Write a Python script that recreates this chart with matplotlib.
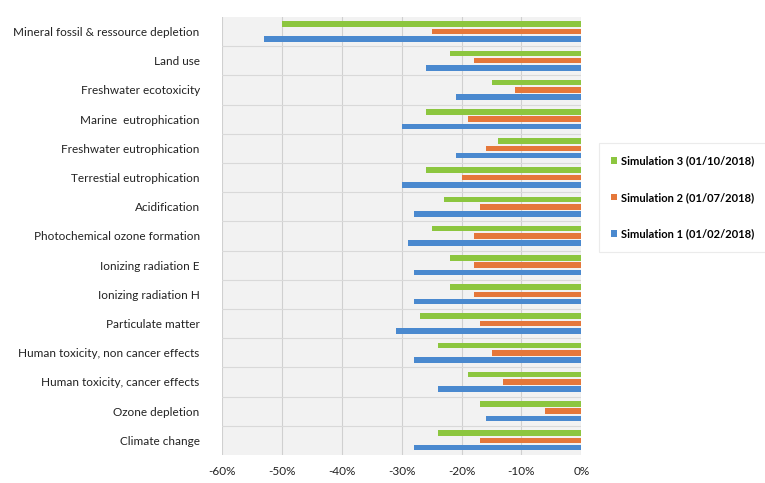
import matplotlib.pyplot as plt
import numpy as np
from matplotlib.ticker import FuncFormatter

plt.rcParams['font.family'] = ['Lato', 'DejaVu Sans']

categories = [
    "Mineral fossil & ressource depletion",
    "Land use",
    "Freshwater ecotoxicity",
    "Marine  eutrophication",
    "Freshwater eutrophication",
    "Terrestial eutrophication",
    "Acidification",
    "Photochemical ozone formation",
    "Ionizing radiation E",
    "Ionizing radiation H",
    "Particulate matter",
    "Human toxicity, non cancer effects",
    "Human toxicity, cancer effects",
    "Ozone depletion",
    "Climate change",
]

# percent change (top to bottom)
sim3 = [-50, -22, -15, -26, -14, -26, -23, -25, -22, -22, -27, -24, -19, -17, -24]
sim2 = [-25, -18, -11, -19, -16, -20, -17, -18, -18, -18, -17, -15, -13, -6, -17]
sim1 = [-53, -26, -21, -30, -21, -30, -28, -29, -28, -28, -31, -28, -24, -16, -28]

series_names = ["Simulation 3 (01/10/2018)",
                "Simulation 2 (01/07/2018)",
                "Simulation 1 (01/02/2018)"]
colors = ["#8cc63f", "#e5773a", "#4a89cf"]

xticks = [-60, -50, -40, -30, -20, -10, 0]

fig = plt.figure(figsize=(7.65, 4.83), dpi=100)
ax = fig.add_axes([0.290, 0.058, 0.470, 0.907])

n = len(categories)
y = np.arange(n)
h = 0.19
step = 0.25

bars = []
for i, (vals, c, name) in enumerate(zip([sim3, sim2, sim1], colors, series_names)):
    b = ax.barh(y + (i - 1) * step, vals, height=h, color=c, label=name, zorder=3)
    bars.append(b)

ax.set_facecolor("#f2f2f2")
ax.set_xlim(-60, 0)
ax.set_ylim(n - 0.5, -0.5)
ax.set_xticks(xticks)
ax.xaxis.set_major_formatter(FuncFormatter(lambda v, p: f"{int(v)}%"))
ax.set_yticks(y)
ax.set_yticklabels(categories)
ax.tick_params(axis='both', length=0, labelsize=8.5, colors="#222222")
ax.tick_params(axis='y', pad=16)
ax.tick_params(axis='x', pad=8)

# vertical gridlines and category separators
ax.grid(axis='x', color="#d0d0d0", linewidth=0.8, zorder=0)
ax.set_axisbelow(True)
for s in np.arange(0.5, n - 0.5, 1.0):
    ax.axhline(s, color="#d9d9d9", linewidth=0.8, zorder=1)

for sp in ax.spines.values():
    sp.set_visible(False)

handles = [bars[0], bars[1], bars[2]]
leg = fig.legend(handles, series_names, loc='upper left',
                 bbox_to_anchor=(0.776, 0.715), frameon=True,
                 handlelength=0.5, handleheight=0.5,
                 handletextpad=0.4, labelspacing=2.3, borderpad=1.1,
                 fancybox=False, prop={'weight': 'bold', 'size': 8})
leg.get_frame().set_edgecolor("#e6e6e6")
leg.get_frame().set_linewidth(0.8)

plt.savefig("out.png", dpi=100)
